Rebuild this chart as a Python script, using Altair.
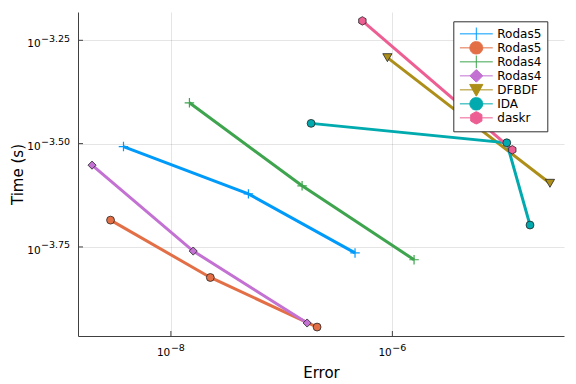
import altair as alt
import pandas as pd

# ---- data (Error, Time (s)) ----
series_keys = ["Rodas5_1", "Rodas5_2", "Rodas4_1", "Rodas4_2", "DFBDF_1", "IDA_1", "daskr_1"]
series_colors = ["#009AFA", "#E36F47", "#3EA44E", "#C371D2", "#AC8E18", "#00AAAE", "#ED5E93"]

rodas5a_err = [3.73e-9, 5.01e-8, 4.60e-7]
rodas5a_time = [3.11e-4, 2.39e-4, 1.72e-4]
rodas5b_err = [2.85e-9, 2.27e-8, 2.09e-7]
rodas5b_time = [2.065e-4, 1.50e-4, 1.138e-4]
rodas4a_err = [1.47e-8, 1.53e-7, 1.57e-6]
rodas4a_time = [3.97e-4, 2.50e-4, 1.656e-4]
rodas4b_err = [1.94e-9, 1.59e-8, 1.70e-7]
rodas4b_time = [2.805e-4, 1.738e-4, 1.164e-4]
dfbdf_err = [9.02e-7, 2.65e-5]
dfbdf_time = [5.105e-4, 2.535e-4]
ida_err = [1.845e-7, 1.079e-5, 1.75e-5]
ida_time = [3.54e-4, 3.177e-4, 2.009e-4]
daskr_err = [5.36e-7, 1.211e-5]
daskr_time = [6.266e-4, 3.055e-4]

x_tick_values = [1e-8, 1e-6]
x_tick_exps = ["−8", "−6"]
y_tick_values = [10 ** -3.25, 10 ** -3.5, 10 ** -3.75]
y_tick_exps = ["−3.25", "−3.50", "−3.75"]

x_domain = [10 ** -8.839, 10 ** -4.45]
y_domain = [10 ** -3.9655, 10 ** -3.1815]

W, H = 486, 324
AXC = "#404040"
FONT = "DejaVu Sans"

all_series = [
    ("Rodas5_1", rodas5a_err, rodas5a_time),
    ("Rodas5_2", rodas5b_err, rodas5b_time),
    ("Rodas4_1", rodas4a_err, rodas4a_time),
    ("Rodas4_2", rodas4b_err, rodas4b_time),
    ("DFBDF_1", dfbdf_err, dfbdf_time),
    ("IDA_1", ida_err, ida_time),
    ("daskr_1", daskr_err, daskr_time),
]
rows = []
for key, es, ts in all_series:
    for i, (e, t) in enumerate(zip(es, ts)):
        rows.append({"series": key, "error": e, "time": t, "order": i})
df = pd.DataFrame(rows)

xscale = alt.Scale(type="log", domain=x_domain, nice=False, zero=False)
yscale = alt.Scale(type="log", domain=y_domain, nice=False, zero=False)
cscale = alt.Scale(domain=series_keys, range=series_colors)

xaxis = alt.Axis(title="Error", values=x_tick_values, labels=False, ticks=False, tickSize=0,
                 titleBaseline="alphabetic", titleY=41)
yaxis = alt.Axis(title="Time (s)", values=y_tick_values, labels=False, ticks=False, tickSize=0,
                 titleX=-53)

X = alt.X("error:Q", scale=xscale, axis=xaxis)
Y = alt.Y("time:Q", scale=yscale, axis=yaxis)

# legend symbols: line through marker
LINE = "M-1,0L1,0"
CIRC = "M0.39,0A0.39,0.39,0,1,1,-0.39,0A0.39,0.39,0,1,1,0.39,0Z"
leg_shapes = [
    LINE + "M0,-0.39L0,0.39",
    LINE + CIRC,
    LINE + "M0,-0.39L0,0.39",
    LINE + "M0,-0.39L0.39,0L0,0.39L-0.39,0Z",
    LINE + "M-0.4,-0.33L0.4,-0.33L0,0.39Z",
    LINE + CIRC,
    LINE + "M0,-0.39L0.34,-0.195L0.34,0.195L0,0.39L-0.34,0.195L-0.34,-0.195Z",
]
LEG = alt.Legend(title=None, orient="none", legendX=375.3, legendY=9.3,
                 labelExpr="split(datum.label, '_')[0]")
FILL = alt.Fill("series:N", scale=cscale, legend=LEG)
STROKE = alt.Stroke("series:N", scale=cscale, legend=LEG)
SHAPE = alt.Shape("series:N", scale=alt.Scale(domain=series_keys, range=leg_shapes), legend=LEG)

base = alt.Chart(df)

lines = base.mark_line(strokeWidth=3).encode(x=X, y=Y, stroke=STROKE, order="order:Q")


def filled_points(keys, shape, size):
    return base.transform_filter(
        alt.FieldOneOfPredicate(field="series", oneOf=keys)
    ).mark_point(filled=True, shape=shape, size=size, stroke="#262626", strokeWidth=0.8, opacity=1).encode(
        x=X, y=Y, fill=FILL)


plus_pts = base.transform_filter(
    alt.FieldOneOfPredicate(field="series", oneOf=["Rodas5_1", "Rodas4_1"])
).mark_point(filled=False, shape="M-1,0L1,0M0,-1L0,1", size=90, strokeWidth=1.2, opacity=1).encode(
    x=X, y=Y, stroke=STROKE)

circ = filled_points(["Rodas5_2", "IDA_1"], "circle", 62)
diam = filled_points(["Rodas4_2"], "diamond", 66)
tri = filled_points(["DFBDF_1"], "triangle-down", 85)
hexa = filled_points(["daskr_1"], "M0,-1L0.866,-0.5L0.866,0.5L0,1L-0.866,0.5L-0.866,-0.5Z", 72)

legend_layer = base.transform_filter("false").mark_point(filled=True, opacity=1).encode(
    x=X, y=Y, fill=FILL, stroke=STROKE, shape=SHAPE)

# inward ticks and "10^exp" tick labels
ytick_df = pd.DataFrame({"time": y_tick_values, "exp": y_tick_exps, "base": ["10"] * len(y_tick_values)})
xtick_df = pd.DataFrame({"error": x_tick_values, "exp": x_tick_exps, "base": ["10"] * len(x_tick_values)})
yticks = alt.Chart(ytick_df).mark_rule(color=AXC, strokeWidth=1).encode(
    y=Y, x=alt.value(0), x2=alt.value(5))
xticks = alt.Chart(xtick_df).mark_rule(color=AXC, strokeWidth=1).encode(
    x=X, y=alt.value(H), y2=alt.value(H - 5))

ylab_base = alt.Chart(ytick_df).mark_text(align="right", baseline="alphabetic", fontSize=10.5,
                                          dy=6.7, font=FONT, color="#000000").encode(
    y=Y, x=alt.value(-37.3), text="base:N")
ylab_exp = alt.Chart(ytick_df).mark_text(align="left", baseline="alphabetic", fontSize=9.5,
                                         dy=1.4, font=FONT, color="#000000").encode(
    y=Y, x=alt.value(-37.0), text="exp:N")
xlab_base = alt.Chart(xtick_df).mark_text(align="right", baseline="alphabetic", fontSize=10.5,
                                          dx=-0.6, font=FONT, color="#000000").encode(
    x=X, y=alt.value(H + 19.8), text="base:N")
xlab_exp = alt.Chart(xtick_df).mark_text(align="left", baseline="alphabetic", fontSize=9.5,
                                         dx=0, font=FONT, color="#000000").encode(
    x=X, y=alt.value(H + 15), text="exp:N")

chart = alt.layer(lines, plus_pts, circ, diam, tri, hexa, legend_layer, yticks, xticks,
                  ylab_base, ylab_exp, xlab_base, xlab_exp).properties(
    width=W, height=H, autosize=alt.AutoSizeParams(type="none"),
    padding={"left": 70, "top": 4, "right": 2, "bottom": 48},
).configure(font=FONT).configure_view(stroke=None).configure_axis(
    grid=True, gridColor="#000000", gridOpacity=0.1, gridWidth=1,
    domainColor=AXC, domainWidth=1,
    titleFont=FONT, titleFontSize=15, titleFontWeight="normal", titleColor="#000000",
).configure_legend(
    padding=6, strokeColor="#303030", fillColor="white", cornerRadius=0,
    symbolSize=1089, symbolStrokeWidth=1, labelFont=FONT, labelFontSize=12, labelColor="#000000",
    labelOffset=4, rowPadding=0, symbolOpacity=1, clipHeight=13.1,
)

chart.save("out.html", embed_options={"renderer": "svg", "actions": False})
